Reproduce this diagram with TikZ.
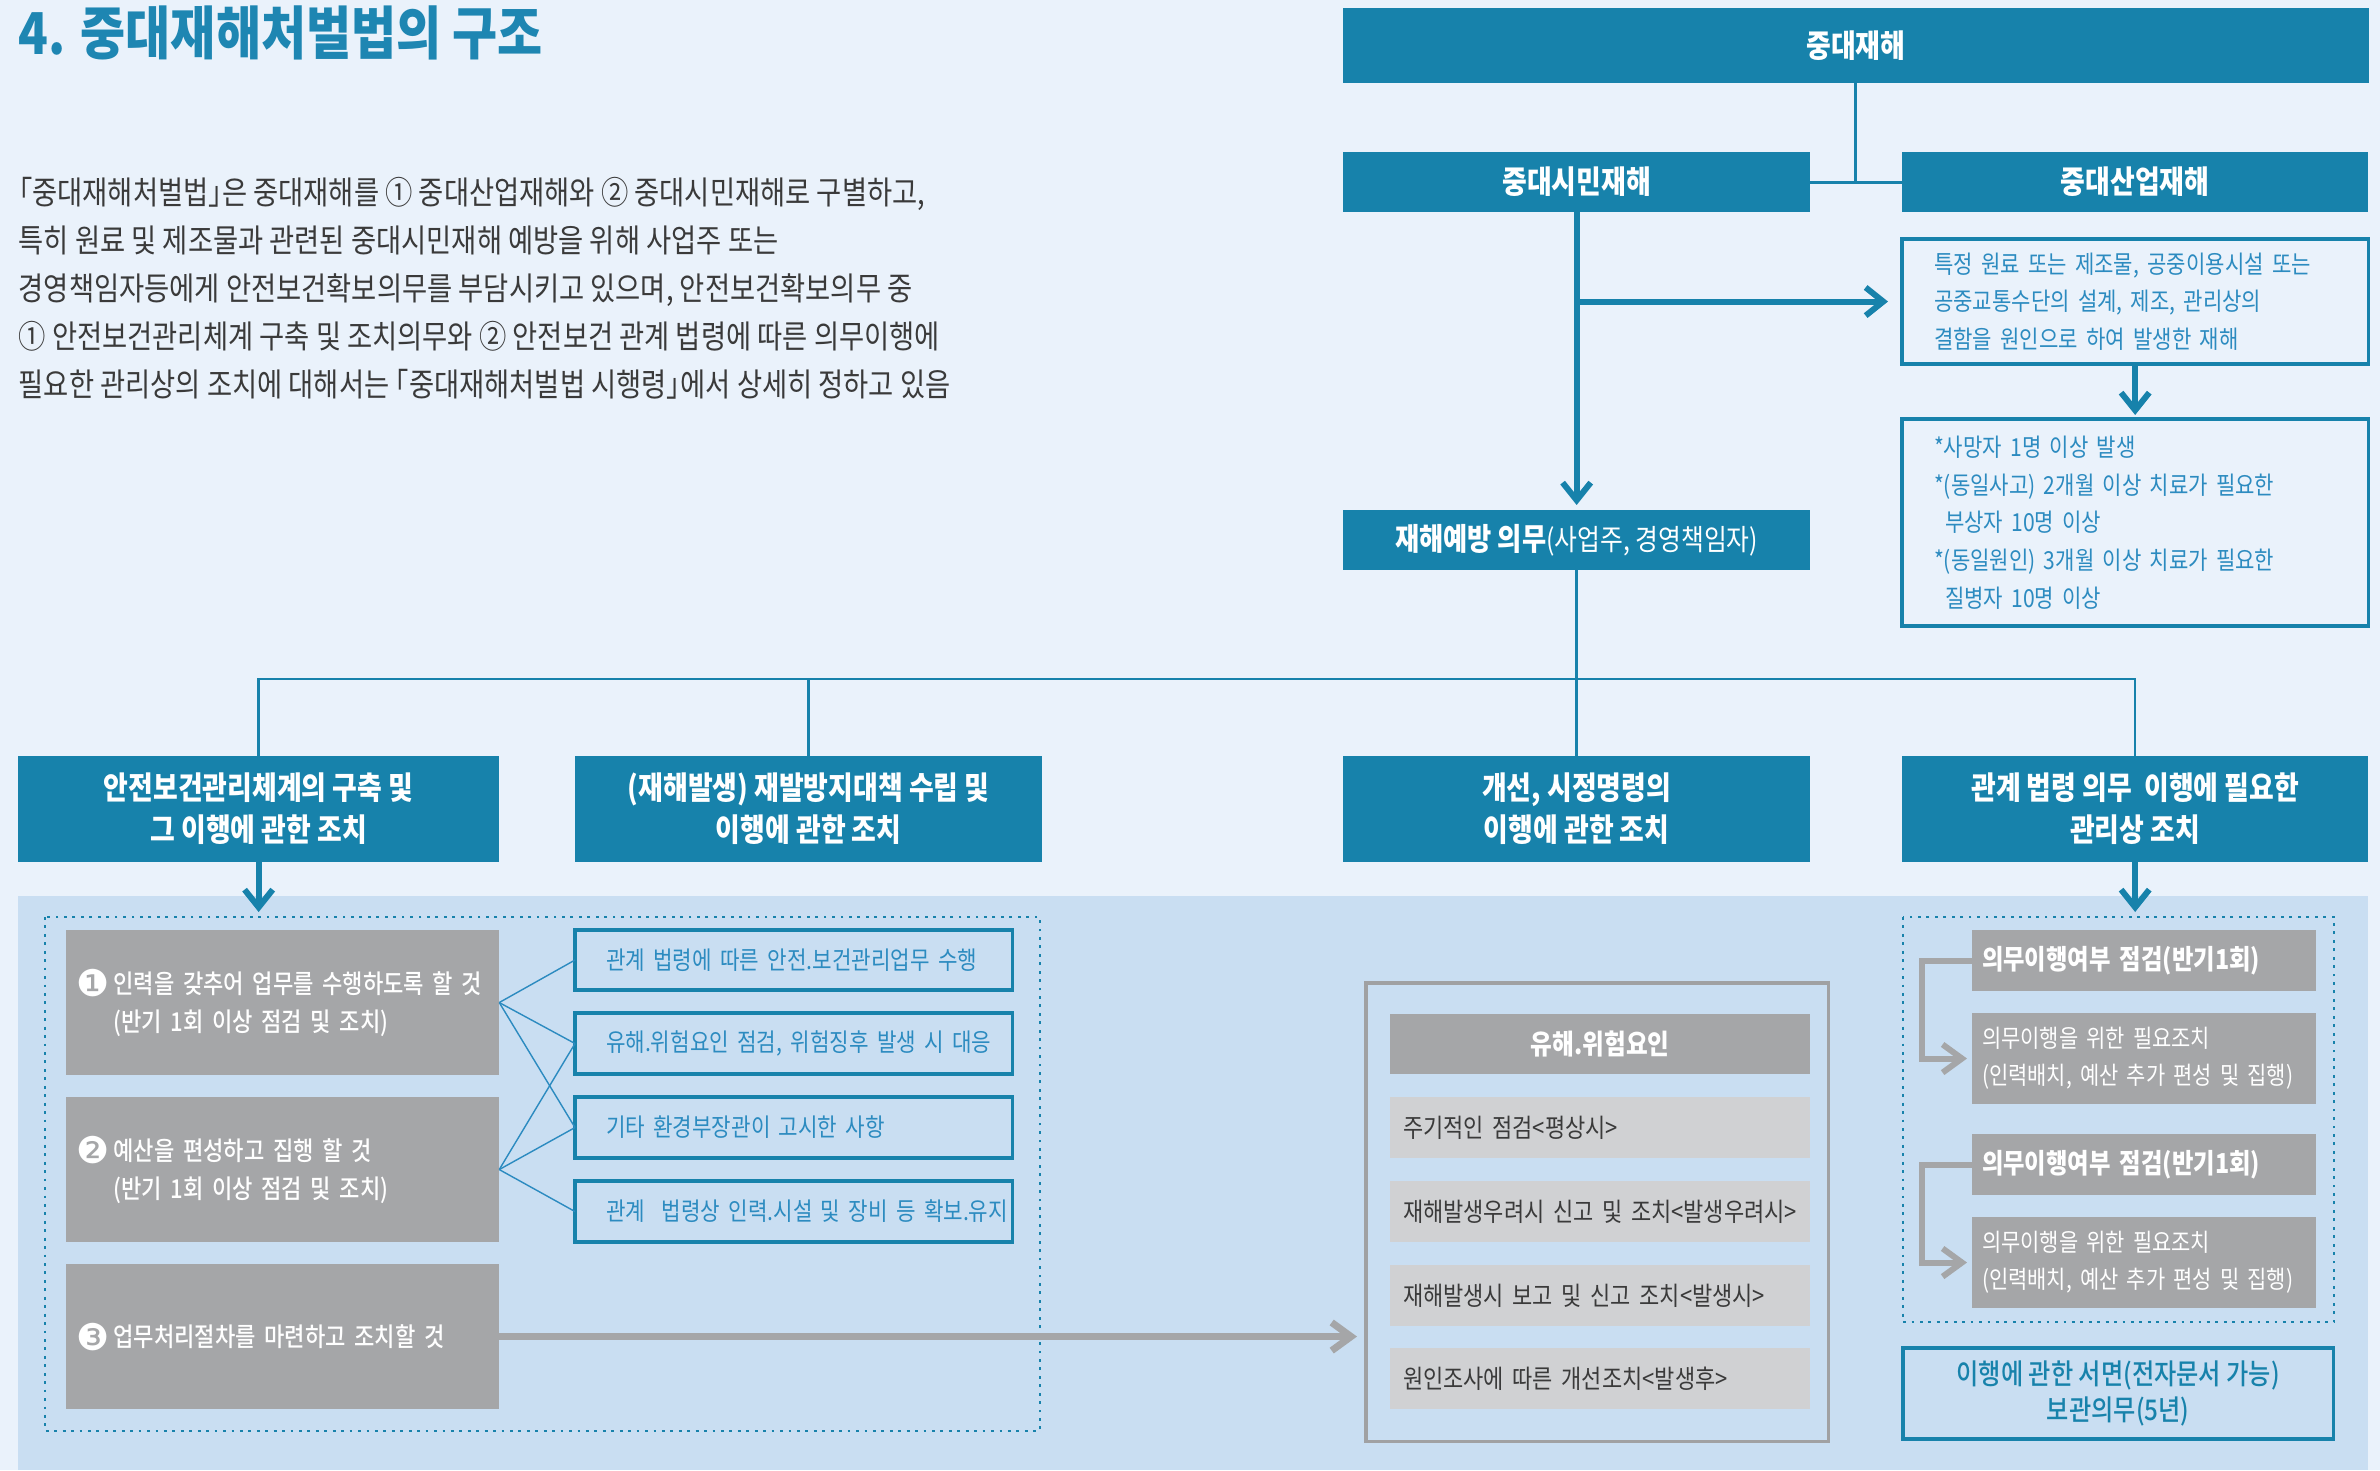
\documentclass[tikz,border=0pt]{standalone}
\usepackage{fontspec}
\setmainfont{Noto Sans CJK KR}[FakeStretch=0.85]
\IfFontExistsTF{Noto Sans CJK KR Medium}
    {\newfontfamily\mediumfont{Noto Sans CJK KR Medium}[FakeStretch=0.85]}
    {\newcommand\mediumfont{\bfseries}}
\newfontfamily\dejavu{DejaVu Sans}
\usetikzlibrary{arrows.meta}
\definecolor{sdblue}{RGB}{23,130,171}
\definecolor{titleblue}{RGB}{30,134,178}
\definecolor{noteblue}{RGB}{44,139,192}
\definecolor{pagebg}{RGB}{234,242,251}
\definecolor{panelbg}{RGB}{201,222,242}
\definecolor{darkgray}{RGB}{165,166,168}
\definecolor{lightgray}{RGB}{208,209,211}
\definecolor{framegray}{RGB}{160,161,163}
\definecolor{bodytext}{RGB}{58,58,58}
\newcommand\negnum[1]{{\dejavu\fontsize{10.5}{10}\selectfont\color{white}\raisebox{-0.9pt}{#1}}\kern1.2pt}
\newcommand\hw[1]{{\addfontfeature{RawFeature=+halt}#1}}
\tikzset{
    boxbase/.style = {anchor=north west, inner sep=0pt, outer sep=0pt},
    title_text/.style = {anchor=west, inner sep=0pt, text=titleblue, font=\fontsize{16.4}{18}\selectfont\bfseries},
    intro_text/.style = {anchor=north west, inner sep=0pt, align=left, text=bodytext, font=\fontsize{9.15}{13.65}\selectfont},
    blue_box/.style = {boxbase, fill=sdblue, text=white, align=center, font=\fontsize{9}{11.9}\selectfont\bfseries},
    part_box/.style = {blue_box, minimum width=4.67cm, minimum height=1.06cm},
    note_box/.style = {boxbase, draw=sdblue, line width=1pt, text=noteblue, align=left, inner xsep=0.32cm, text width=4.02cm, font=\fontsize{7.05}{10.7}\selectfont},
    item_box/.style = {boxbase, draw=sdblue, line width=1pt, text=noteblue, align=left, inner xsep=0.04cm, text width=4.29cm, minimum height=0.6cm, font=\fontsize{7.1}{10}\selectfont, execute at begin node={\hspace*{0.27cm}}},
    task_box/.style = {boxbase, fill=darkgray, text=white, align=left, inner xsep=0.1cm, text width=4.13cm, minimum height=1.45cm, font=\fontsize{7.4}{10.8}\selectfont\mediumfont},
    haz_frame/.style = {boxbase, draw=framegray, line width=0.9pt, minimum width=4.62cm, minimum height=4.58cm},
    haz_head/.style = {boxbase, fill=darkgray, text=white, minimum width=4.2cm, minimum height=0.6cm, font=\fontsize{7.9}{10}\selectfont\bfseries},
    haz_item/.style = {boxbase, fill=lightgray, text=bodytext, align=left, inner xsep=0.13cm, text width=3.94cm, minimum height=0.61cm, font=\fontsize{7.35}{10}\selectfont},
    check_box/.style = {boxbase, fill=darkgray, text=white, align=left, inner xsep=0.1cm, text width=3.24cm, minimum height=0.61cm, font=\fontsize{7.8}{10}\selectfont\bfseries},
    act_box/.style = {check_box, minimum height=0.91cm, font=\fontsize{7}{10.5}\selectfont},
    keep_box/.style = {boxbase, draw=sdblue, line width=1pt, text=sdblue, align=center, minimum width=4.3cm, minimum height=0.91cm, font=\fontsize{8.1}{10.2}\selectfont\mediumfont},
    link/.style = {draw=sdblue, line width=0.85pt},
    bus_line/.style = {draw=sdblue, line width=0.75pt},
    flow/.style = {draw=sdblue, line width=1.7pt, -{Straight Barb[length=5pt, width=8pt]}},
    fan/.style = {draw=noteblue, line width=0.4pt},
    gray_flow/.style = {draw=darkgray, line width=2pt, -{Straight Barb[length=5.5pt, width=8pt]}},
    dot_frame/.style = {draw=sdblue, line width=0.8pt, dash pattern=on 0.8pt off 1.6pt}
}
\begin{document}
\begin{tikzpicture}[x=0.01cm, y=-0.01cm]
    \useasboundingbox (0,0) rectangle (2380,1470);
    \fill[pagebg] (0,0) rectangle (2380,1470);
    \fill[panelbg] (18,896) rectangle (2368,1470);
    \draw[dot_frame] (45,917) rectangle (1040,1431);
    \draw[dot_frame] (1903,917) rectangle (2334,1322);

    \node (title) [title_text] at (18,33) {4. 중대재해처벌법의 구조};
    \node (intro) [intro_text] at (18,177) {\hw{「}중대재해처벌법\hw{」}은 중대재해를 ① 중대산업재해와 ② 중대시민재해로 구별하고,\\특히 원료 및 제조물과 관련된 중대시민재해 예방을 위해 사업주 또는\\경영책임자등에게 안전보건확보의무를 부담시키고 있으며, 안전보건확보의무 중\\① 안전보건관리체계 구축 및 조치의무와 ② 안전보건 관계 법령에 따른 의무이행에\\필요한 관리상의 조치에 대해서는 \hw{「}중대재해처벌법 시행령\hw{」}에서 상세히 정하고 있음};

    \node (top) [blue_box, minimum width=10.25cm, minimum height=0.75cm] at (1343,8) {중대재해};
    \node (civil) [blue_box, minimum width=4.67cm, minimum height=0.6cm] at (1343,152) {중대시민재해};
    \node (industrial) [blue_box, minimum width=4.66cm, minimum height=0.6cm] at (1902,152) {중대산업재해};
    \node (scope) [note_box, minimum height=1.25cm] at (1902,239) {특정 원료 또는 제조물, 공중이용시설 또는\\공중교통수단의 설계, 제조, 관리상의\\결함을 원인으로 하여 발생한 재해};
    \node (criteria) [note_box, minimum height=2.07cm] at (1902,419) {*사망자 1명 이상 발생\\{}*(동일사고) 2개월 이상 치료가 필요한\\\hspace*{0.11cm}부상자 10명 이상\\{}*(동일원인) 3개월 이상 치료가 필요한\\\hspace*{0.11cm}질병자 10명 이상};
    \node (duty) [blue_box, minimum width=4.67cm, minimum height=0.6cm, font=\fontsize{8.3}{11}\selectfont] at (1343,510) {{\fontsize{8.8}{11}\selectfont\bfseries 재해예방 의무}(사업주, 경영책임자)};

    \node (system) [part_box, minimum width=4.81cm] at (18,756) {안전보건관리체계의 구축 및\\그 이행에 관한 조치};
    \node (recur) [part_box] at (575,756) {(재해발생) 재발방지대책 수립 및\\이행에 관한 조치};
    \node (order) [part_box] at (1343,756) {개선, 시정명령의\\이행에 관한 조치};
    \node (law) [part_box, minimum width=4.66cm] at (1902,756) {관계 법령 의무\ \ 이행에 필요한\\관리상 조치};

    \node (task1) [task_box] at (66,930) {\negnum{❶}인력을 갖추어 업무를 수행하도록 할 것\\\hphantom{\negnum{❶}}(반기 1회 이상 점검 및 조치)};
    \node (task2) [task_box] at (66,1097) {\negnum{❷}예산을 편성하고 집행 할 것\\\hphantom{\negnum{❷}}(반기 1회 이상 점검 및 조치)};
    \node (task3) [task_box] at (66,1264) {\negnum{❸}업무처리절차를 마련하고 조치할 것};

    \node (item1) [item_box] at (575,930) {관계 법령에 따른 안전.보건관리업무 수행};
    \node (item2) [item_box, minimum height=0.61cm] at (575,1013) {유해.위험요인 점검, 위험징후 발생 시 대응};
    \node (item3) [item_box, minimum height=0.61cm] at (575,1097) {기타 환경부장관이 고시한 사항};
    \node (item4) [item_box, minimum height=0.61cm] at (575,1181) {관계\ \ 법령상 인력.시설 및 장비 등 확보.유지};

    \node (hazard) [haz_frame] at (1366,983) {};
    \node (haz0) [haz_head] at (1390,1014) {유해.위험요인};
    \node (haz1) [haz_item] at (1390,1097) {주기적인 점검<평상시>};
    \node (haz2) [haz_item] at (1390,1181) {재해발생우려시 신고 및 조치<발생우려시>};
    \node (haz3) [haz_item] at (1390,1265) {재해발생시 보고 및 신고 조치<발생시>};
    \node (haz4) [haz_item] at (1390,1348) {원인조사에 따른 개선조치<발생후>};

    \node (check1) [check_box] at (1972,930) {의무이행여부 점검(반기1회)};
    \node (act1) [act_box] at (1972,1013) {의무이행을 위한 필요조치\\(인력배치, 예산 추가 편성 및 집행)};
    \node (check2) [check_box] at (1972,1134) {의무이행여부 점검(반기1회)};
    \node (act2) [act_box] at (1972,1217) {의무이행을 위한 필요조치\\(인력배치, 예산 추가 편성 및 집행)};
    \node (keep) [keep_box] at (1903,1348) {이행에 관한 서면(전자문서 가능)\\보관의무(5년)};

    \coordinate (bus) at (0,679);
    \coordinate (panel_top) at (0,912);

    \draw[link] (top.south) -- (top.south |- civil.east);
    \draw[link] (civil.east) -- (industrial.west);
    \draw[flow, shorten >=0.05cm] (civil.south) -- (duty.north);
    \draw[flow, shorten >=0.14cm] (civil.south |- scope.west) -- (scope.west);
    \draw[flow, shorten >=0.04cm] (scope.south) -- (criteria.north);
    \draw[bus_line] (duty.south) -- (order.north);
    \draw[bus_line] (system.north) |- (law.north |- bus) -- (law.north);
    \draw[bus_line] (recur.north) -- (recur.north |- bus);
    \draw[flow] (system.south) -- (system.south |- panel_top);
    \draw[flow] (law.south) -- (law.south |- panel_top);
    \foreach \dst in {item1, item2, item3}
        \draw[fan] (task1.east) -- (\dst.west);
    \foreach \dst in {item2, item3, item4}
        \draw[fan] (task2.east) -- (\dst.west);
    \draw[gray_flow, shorten >=0.09cm] (task3.east) -- (hazard.west |- task3.east);
    \draw[gray_flow, line width=1.7pt, shorten >=0.05cm] (check1.west) -- ++(-50,0) |- (act1.west);
    \draw[gray_flow, line width=1.7pt, shorten >=0.05cm] (check2.west) -- ++(-50,0) |- (act2.west);
\end{tikzpicture}
\end{document}
